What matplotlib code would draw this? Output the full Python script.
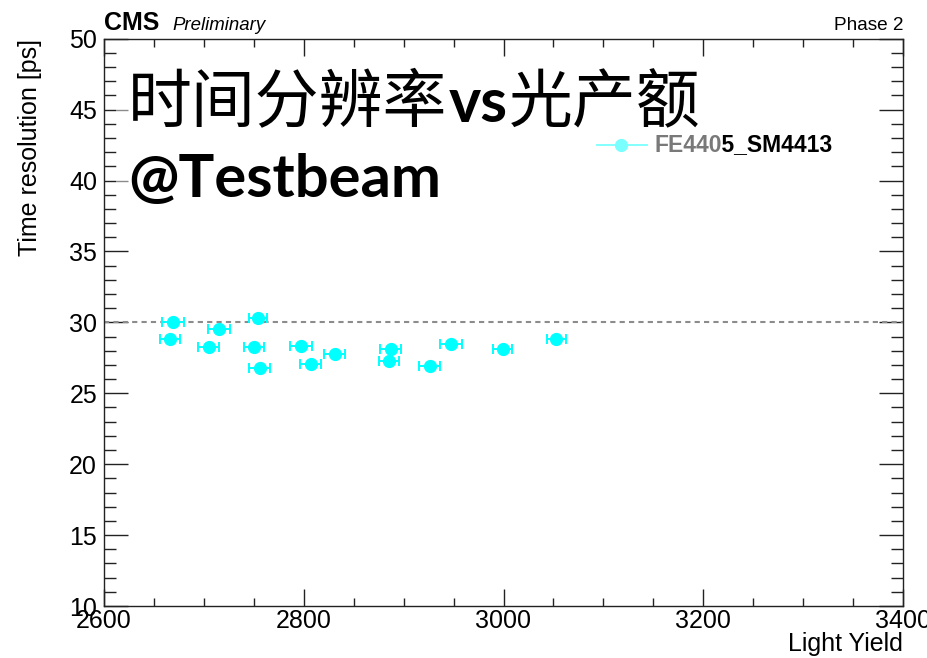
import numpy as np
import matplotlib.pyplot as plt
from matplotlib.patches import Rectangle
from matplotlib.ticker import MultipleLocator

plt.rcParams['font.family'] = ['Liberation Sans', 'DejaVu Sans']

# light yield / time resolution measurements for FE4405_SM4413
light_yield = [2669, 2666, 2715, 2705, 2754, 2750, 2756, 2797, 2807, 2831,
               2887, 2885, 2926, 2947, 2999, 3053]
ly_err = [11, 9.7, 11, 10.5, 9.3, 10.3, 10.7, 11, 10.7, 10.5,
          10.5, 10, 10.3, 11, 10, 9.5]
time_res = [30.0, 28.85, 29.5, 28.25, 30.3, 28.25, 26.75, 28.35, 27.05, 27.8,
            28.15, 27.3, 26.9, 28.45, 28.15, 28.8]
series_label = 'FE4405_SM4413'
ref_level = 30

W, H = 927, 658
fig = plt.figure(figsize=(W / 100, H / 100), dpi=100)
ax = fig.add_axes([104 / W, 1 - 606 / H, (903 - 104) / W, (606 - 38.7) / H])

ax.errorbar(light_yield, time_res, xerr=ly_err, fmt='o', color='cyan',
            ms=8.5, elinewidth=1.4, capsize=3.5, capthick=1.4, zorder=3)
ax.axhline(ref_level, color='#8c8c8c', ls=(0, (2.5, 2)), lw=1.5, zorder=2)

ax.set_xlim(2600, 3400)
ax.set_ylim(10, 50)
ax.xaxis.set_major_locator(MultipleLocator(200))
ax.xaxis.set_minor_locator(MultipleLocator(50))
ax.yaxis.set_major_locator(MultipleLocator(5))
ax.yaxis.set_minor_locator(MultipleLocator(1))
ax.tick_params(axis='both', which='both', direction='in', top=True, right=True,
               width=1, color='#222222')
ax.tick_params(axis='x', which='major', length=12, labelsize=18, pad=2.5)
ax.tick_params(axis='x', which='minor', length=6)
ax.tick_params(axis='y', which='major', length=17, labelsize=18, pad=5)
ax.tick_params(axis='y', which='minor', length=8.5)
for s in ax.spines.values():
    s.set_color('#222222')
    s.set_linewidth(1)

ax.set_xlabel('Light Yield', fontsize=18, ha='right', va='top')
ax.xaxis.set_label_coords(1.0, -0.046)
ax.set_ylabel('Time resolution [ps]', fontsize=18, ha='right', va='center')
ax.yaxis.set_label_coords(-0.093, 1.0)

fig.text(104 / W, 1 - 30 / H, 'CMS', fontsize=18, fontweight='bold', va='baseline')
fig.text(172 / W, 1 - 30 / H, 'Preliminary', fontsize=13.4, style='italic', va='baseline')
fig.text(903 / W, 1 - 30 / H, 'Phase 2', fontsize=13.7, ha='right', va='baseline')

# legend entry
leg_y = 1 - 145 / H
fig.add_artist(plt.Line2D([597 / W, 647 / W], [leg_y, leg_y], color='cyan', lw=1.3))
fig.add_artist(plt.Line2D([621 / W], [leg_y], marker='o', color='cyan', ms=8.5))
fig.text(655 / W, leg_y, series_label, fontsize=16.5, fontweight='bold', va='center')

# translucent title box
fig.add_artist(Rectangle((116 / W, 1 - 215 / H), (721 - 116) / W, 155 / H,
                         transform=fig.transFigure, facecolor='white', alpha=0.48,
                         edgecolor='none', zorder=5))

# first title line: CJK words around a bold latin "vs"
renderer = fig.canvas.get_renderer()
x = 128
pieces = [('时间分辨率', 'Noto Sans CJK SC', 'medium', 46),
          ('vs', 'Lato', 'bold', 44),
          ('光产额', 'Noto Sans CJK SC', 'medium', 46)]
for txt, fam, wt, size in pieces:
    t = fig.text(x / W, 1 - 122 / H, txt, fontsize=size, fontweight=wt,
                 family=fam, va='baseline', zorder=6)
    x = t.get_window_extent(renderer).x1 + 1
fig.text(128 / W, 1 - 197 / H, '@Testbeam', fontsize=43, fontweight='bold',
         family='Lato', va='baseline', zorder=6)

fig.savefig('out.png', dpi=100)
